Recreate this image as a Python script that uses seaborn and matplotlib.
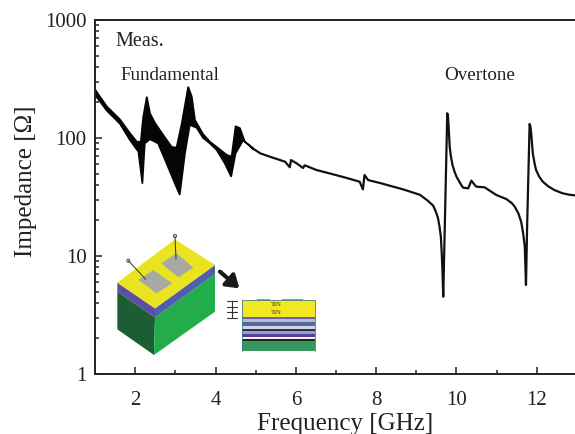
import matplotlib
matplotlib.use('Agg')
import matplotlib.pyplot as plt
from matplotlib.patches import Polygon, Rectangle, Circle
import pandas as pd
import seaborn as sns

# noisy fundamental region: upper and lower edge of the black band
band_upper_f = [1.0, 1.29, 1.62, 1.87, 2.04, 2.14, 2.20, 2.29, 2.37, 2.49, 2.57, 2.70, 2.91, 3.03, 3.16, 3.32, 3.41, 3.49,
                3.69, 3.86, 4.03, 4.28, 4.40, 4.50, 4.61, 4.73, 4.94]
band_upper_z = [258, 186, 144, 110, 93, 93, 151, 224, 162, 135, 123, 106, 84, 83, 133, 272, 224, 142,
                108, 93, 84, 72, 69.5, 126, 121, 93, 82]
band_lower_f = [1.0, 1.29, 1.62, 1.87, 2.08, 2.18, 2.24, 2.37, 2.57, 2.78, 2.99, 3.11, 3.24, 3.36, 3.53,
                3.69, 3.86, 4.03, 4.23, 4.39, 4.50, 4.69, 4.94]
band_lower_z = [232, 171, 132, 96, 76.5, 41, 90, 97.5, 90, 61, 41, 33, 74, 129, 122,
                100, 90, 79, 61, 47, 74, 96, 80]

# rest of the measured curve
freq = [4.94, 5.12, 5.35, 5.55, 5.73, 5.85, 5.88, 6.02, 6.18, 6.22, 6.51, 6.90, 7.25, 7.59, 7.67, 7.71, 7.80,
        8.09, 8.67, 9.09, 9.28, 9.42, 9.49, 9.54, 9.58, 9.61, 9.63, 9.65, 9.67, 9.71, 9.77, 9.79, 9.81, 9.83,
        9.86, 9.90, 9.95, 10.0, 10.08, 10.16, 10.29, 10.37, 10.49, 10.70, 10.99, 11.24, 11.38, 11.45, 11.54,
        11.61, 11.66, 11.70, 11.73, 11.76, 11.82, 11.84, 11.86, 11.90, 11.94, 11.98, 12.06, 12.15, 12.28,
        12.44, 12.64, 12.82, 13.0]
impedance = [81, 74, 69.5, 66, 63, 56.5, 65, 61, 55.7, 58.7, 53.6, 49.5, 46, 42.6, 36.7, 48.6, 44,
             41.6, 36.7, 33, 29.5, 26.7, 23.5, 20.9, 17.5, 14.6, 11, 7.6, 4.52, 18.9, 162, 150, 115, 84.4,
             70, 59, 52, 47, 42, 38, 37.4, 43.5, 38.7, 38.2, 32.9, 30.4, 28, 26.2, 23,
             19.5, 15.5, 12, 5.68, 18.9, 131.5, 125, 110, 74, 62, 53.6, 47, 42.6, 39,
             36.2, 34, 33, 32.5]

x_ticks = [2, 4, 6, 8, 10, 12]
x_minor = [3, 5, 7, 9, 11]
y_ticks = [1, 10, 100, 1000]
y_labels = ['1', '10', '100', '1000']

sns.set_theme(style='ticks')
plt.rcParams['font.family'] = ['Liberation Serif', 'DejaVu Serif']

W, H = 575, 434
fig = plt.figure(figsize=(W / 100, H / 100), dpi=100)
ax = fig.add_axes([95 / W, 1 - 374 / H, 482 / W, 354 / H])

curve = pd.DataFrame({'freq': freq, 'impedance': impedance})
sns.lineplot(data=curve, x='freq', y='impedance', color='#111111', lw=1.6, sort=False,
             estimator=None, errorbar=None, ax=ax)
ax.fill(band_upper_f + band_lower_f[::-1], band_upper_z + band_lower_z[::-1], color='#050505', lw=1.2)

ax.set_yscale('log')
ax.set_xlim(1, 13)
ax.set_ylim(1, 1000)
ax.set_xticks(x_ticks)
ax.set_xticks(x_minor, minor=True)
ax.set_yticks(y_ticks)
ax.set_yticklabels(y_labels)
ax.tick_params(which='major', direction='in', length=5, width=1.1, labelsize=15, colors='#222222', pad=6)
ax.tick_params(which='minor', direction='in', length=2.6, width=1.1)
ax.tick_params(axis='x', which='major', pad=12)
ax.spines['right'].set_visible(False)
for side in ['left', 'top', 'bottom']:
    ax.spines[side].set_linewidth(1.4)
    ax.spines[side].set_color('#222222')
ax.set_xlabel('Frequency [GHz]', fontsize=18, color='#222222')
ax.set_ylabel('Impedance [Ω]', fontsize=18, color='#222222')
ax.xaxis.set_label_coords((345 - 95) / 482, -39 / 354)
ax.yaxis.set_label_coords(-58 / 482, (374 - 181) / 354)

# overlay in pixel coordinates for the labels and the device sketch
ov = fig.add_axes([0, 0, 1, 1], facecolor='none')
ov.set_xlim(0, W)
ov.set_ylim(H, 0)
ov.axis('off')
ov.text(115, 42, 'Meas.', fontsize=14.5, color='#222222', va='center')
ov.text(120, 75, 'Fundamental', fontsize=13.7, color='#222222', va='center')
ov.text(444, 75, 'Overtone', fontsize=13.7, color='#222222', va='center')


def z(pts):
    # zoomed crop coordinates to figure pixels
    return [(100 + a / 3, 220 + b / 3) for a, b in pts]


faces = [
    ([(52, 215), (165, 292), (162, 405), (52, 328)], '#1b5e33'),
    ([(165, 292), (345, 162), (345, 275), (162, 405)], '#22ad4a'),
    ([(52, 188), (165, 265), (165, 292), (52, 215)], '#5a4fa0'),
    ([(165, 265), (345, 135), (345, 162), (165, 292)], '#4f5fae'),
    ([(52, 188), (225, 58), (345, 135), (165, 265)], '#e9e41f'),
    ([(115, 180), (160, 150), (217, 190), (170, 220)], '#a9a9a4'),
    ([(183, 130), (230, 100), (280, 143), (235, 172)], '#a9a9a4'),
]
for pts, col in faces:
    ov.add_patch(Polygon(z(pts), closed=True, fc=col, ec='none'))
for (a, b) in [((85, 122), (137, 178)), ((225, 48), (228, 118))]:
    p = z([a, b])
    ov.plot([p[0][0], p[1][0]], [p[0][1], p[1][1]], color='#333333', lw=0.7)
    ov.add_patch(Circle(p[0], 1.6, fc='white', ec='#333333', lw=0.6))

# arrow to the cross section
a0, a1 = z([(360, 155), (418, 205)])
ov.annotate('', xy=a1, xytext=a0, arrowprops=dict(arrowstyle='-|>,head_width=0.4,head_length=0.6',
                                                  color='#1a1a1a', lw=3, shrinkA=0, shrinkB=0))

# cross section of the layer stack
layers = [(240, 292, '#f3e81f'), (292, 298, '#6f63a8'), (298, 306, '#b9b9cf'), (306, 318, '#4f6aa5'),
          (318, 326, '#d5d5e0'), (326, 334, '#2c2a5e'), (334, 342, '#8fa2c9'), (342, 350, '#5a3f98'),
          (350, 358, '#f4f4f4'), (358, 362, '#222222'), (362, 392, '#36985a')]
for top, bot, col in layers:
    (x0, y0), (x1, y1) = z([(425, top), (645, bot)])
    ov.add_patch(Rectangle((x0, y0), x1 - x0, y1 - y0, fc=col, ec='none'))
for a, b in [(470, 510), (545, 610)]:
    (x0, y0), (x1, y1) = z([(a, 236), (b, 240)])
    ov.add_patch(Rectangle((x0, y0), x1 - x0, y1 - y0, fc='#6aa5c8', ec='none'))
for xa, ya, xb, yb in [(425, 240, 425, 392), (645, 240, 645, 392), (425, 240, 645, 240)]:
    p = z([(xa, ya), (xb, yb)])
    ov.plot([p[0][0], p[1][0]], [p[0][1], p[1][1]], color='#3d7f8f', lw=0.6)
for yy in [253, 279]:
    p = z([(470, yy), (590, yy)])
    ov.text((p[0][0] + p[1][0]) / 2, p[0][1], 'TiN', fontsize=5, color='#333333', ha='center', va='center')

# thickness marks left of the stack
for yy in [243, 262, 276, 295]:
    p = z([(380, yy), (412, yy)])
    ov.plot([p[0][0], p[1][0]], [p[0][1], p[1][1]], color='#333333', lw=0.8)
p = z([(396, 243), (396, 295)])
ov.plot([p[0][0], p[1][0]], [p[0][1], p[1][1]], color='#333333', lw=0.8)

fig.savefig('out.png', dpi=100)
